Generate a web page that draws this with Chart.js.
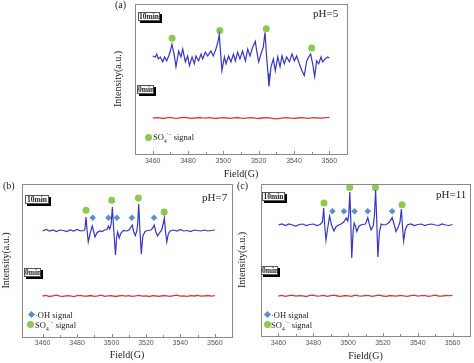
<!DOCTYPE html>
<html>
<head>
<meta charset="utf-8">
<script src="https://cdn.jsdelivr.net/npm/chart.js@4.4.1/dist/chart.umd.min.js"></script>
<style>
body{margin:0;background:#fff;}
#wrap{position:relative;width:474px;height:363px;overflow:hidden;font-family:"Liberation Serif",serif;}
canvas{position:absolute;}
.t{position:absolute;white-space:nowrap;color:#222;line-height:1;}
.box{position:absolute;box-sizing:border-box;height:9px;background:#fff;border:1px solid #555;box-shadow:2px 2px 0 #000;font-weight:bold;font-size:7.5px;line-height:7px;text-align:center;color:#222;}
.lg{position:absolute;white-space:nowrap;font-size:8.5px;line-height:1;color:#222;}
.lg sub,.lg sup{font-size:5.5px;line-height:0;}
.dot{position:absolute;width:7px;height:7px;border-radius:50%;background:#8dc84f;}
.dia{position:absolute;width:5px;height:5px;background:#5b8fd2;transform:rotate(45deg);}
</style>
</head>
<body>
<div id="wrap">
  <canvas id="chartA" width="260" height="182" style="left:100px;top:0px"></canvas>
  <canvas id="chartB" width="240" height="183" style="left:0px;top:180px"></canvas>
  <canvas id="chartC" width="238" height="183" style="left:236px;top:180px"></canvas>

  <div class="t" style="left:115px;top:0px;font-size:10px">(a)</div>
  <div class="t" style="left:3px;top:181px;font-size:10px">(b)</div>
  <div class="t" style="left:237px;top:181px;font-size:10px">(c)</div>

  <div class="t" style="left:313px;top:8px;font-size:11px">pH=5</div>
  <div class="t" style="left:202px;top:192px;font-size:11px">pH=7</div>
  <div class="t" style="left:436px;top:189px;font-size:11px">pH=11</div>

  <div class="box" style="left:138px;top:12px;width:22px">10min</div>
  <div class="box" style="left:137px;top:85px;width:17px">0min</div>
  <div class="box" style="left:25px;top:195px;width:24px">10min</div>
  <div class="box" style="left:24px;top:268px;width:17px">0min</div>
  <div class="box" style="left:262px;top:192px;width:23px">10min</div>
  <div class="box" style="left:261px;top:266px;width:17px">0min</div>

  <!-- legends -->
  <div class="dot" style="left:145px;top:134px"></div>
  <div class="lg" style="left:153px;top:133px">SO<sub>4</sub><sup>·−</sup> signal</div>

  <div class="dia" style="left:29px;top:312px"></div>
  <div class="lg" style="left:35px;top:311px">·OH signal</div>
  <div class="dot" style="left:27px;top:321px"></div>
  <div class="lg" style="left:35px;top:321px">SO<sub>4</sub><sup>·−</sup> signal</div>

  <div class="dia" style="left:265px;top:312px"></div>
  <div class="lg" style="left:271px;top:311px">·OH signal</div>
  <div class="dot" style="left:264px;top:321px"></div>
  <div class="lg" style="left:271px;top:321px">SO<sub>4</sub><sup>·−</sup> signal</div>
</div>

<script>
// axis ticks
var fieldTicks = [3460, 3480, 3500, 3520, 3540, 3560];
var minorTicks = [3470, 3490, 3510, 3530, 3550];

// 0min traces (red), shared field grid
var fieldRed = [3460,3462,3464,3466,3468,3470,3472,3474,3476,3478,3480,3482,3484,3486,3488,3490,3492,3494,3496,3498,3500,3502,3504,3506,3508,3510,3512,3514,3516,3518,3520,3522,3524,3526,3528,3530,3532,3534,3536,3538,3540,3542,3544,3546,3548,3550,3552,3554,3556,3558,3560];
var redA = [36.5,37,36.8,36.2,36.9,37.3,36.6,36.4,37,37.4,36.9,36.3,36.7,37.2,36.8,36.5,37,36.6,36.2,36.8,37.1,36.7,36.4,36.9,37.2,36.6,36.3,36.8,37,36.5,36.2,36.7,37.1,36.8,36.4,35.8,36.3,36.8,37,36.6,36.3,36.7,37.1,36.8,36.4,36.9,37.2,36.7,36.5,37,37.3];
var redB = [41,41.6,40.5,41.2,41.8,40.9,40.6,41.4,41.1,40.4,41.3,41.7,40.8,41,41.5,40.6,41.2,41.9,40.7,41.1,41.4,40.5,41,41.6,40.9,41.3,40.6,41.1,41.7,40.8,41.2,40.5,41.4,41,40.7,41.5,41.1,40.6,41.3,41.8,40.9,41.2,40.6,41.4,41,41.6,40.8,41.2,41.5,40.9,41.3];
var redC = [40,40.7,39.6,40.3,40.9,39.8,40.4,40.1,39.5,40.6,40.8,39.9,40.2,40.7,39.6,40.3,40.9,40,39.7,40.5,40.2,39.6,40.8,40.1,39.9,40.6,40.3,39.7,40.4,40.9,40,39.6,40.5,40.2,39.8,40.7,40.1,39.6,40.4,40.8,39.9,40.3,40.6,39.7,40.2,40.9,40,39.8,40.5,40.3,40.6];

// 10min traces (blue)
var fieldA = [3460,3461.5,3462.3,3463.2,3464.3,3465.7,3466.8,3467.9,3469.1,3470,3470.9,3472.3,3473.2,3474.7,3476,3477,3478.5,3479.8,3480.8,3482.3,3483.6,3484.5,3486,3487.4,3488.3,3489.8,3491.1,3493,3494.3,3495.8,3497,3497.7,3498.5,3499.2,3500.6,3501.5,3503,3504.3,3505.7,3506.8,3508.1,3509.4,3510.9,3512.5,3513.8,3515.1,3516.6,3518.1,3518.9,3520,3521.3,3522.6,3523.6,3524.5,3525.3,3525.8,3527,3528.3,3529.4,3530.8,3532.1,3533.2,3534.5,3535.8,3537.4,3538.9,3540.2,3541.5,3543,3544.5,3545.8,3547.2,3548.3,3549.4,3550.6,3551.7,3552.8,3554,3555.3,3556.2,3557.7,3559,3560];
var blueA = [100,99,102,97,99,94,99,95,100,105,112,100,89,105,99,107,94,100,90,99,92,100,95,102,97,104,100,105,100,107,115,122,102,85,99,92,100,94,102,95,104,97,105,95,107,100,109,115,105,94,102,109,124,99,82,69,89,97,85,99,89,100,92,99,94,102,95,100,92,85,80,95,99,102,92,79,95,92,99,94,97,99,98];

var fieldB = [3460,3462,3464,3466,3468,3470,3472,3474,3476,3478,3480,3482,3484,3484.6,3485.2,3485.8,3486.5,3487.5,3488.8,3489.6,3490.4,3491.5,3493,3494.5,3496,3497.4,3498.2,3499,3499.8,3500.5,3501.3,3502.3,3503,3503.6,3504.5,3505.5,3507,3509,3510.5,3511.3,3512,3512.9,3513.8,3514.7,3515.2,3515.8,3516.5,3517.3,3518.2,3519.5,3521,3523,3524,3524.8,3525.8,3526.8,3528,3529.2,3530,3530.7,3531.4,3532.1,3533,3534,3536,3538,3540,3542,3544,3546,3548,3550,3552,3554,3556,3558,3560];
var blueB = [106,107.5,106,107,105.5,107,106.5,105.5,107,106,107.5,106,106.5,108,120,107,95,103,111,106,100,104,106,105.5,107,107.5,111,108,113,130,107,82,100,105,99,104,106.5,106,107.5,110,112,105,101.5,106,113,133,107,83,101,105.5,106.5,107,109,112,105,101,104.5,107,113,119,105,95,103,106,107,106,107.5,106,106.5,105.5,107,106.5,106,107,106,106.5,107];

var fieldC = [3460,3462,3464,3466,3468,3470,3472,3474,3476,3478,3480,3482,3484,3485.3,3486,3486.6,3487.3,3488.3,3489.4,3490.5,3491.9,3493,3494.5,3496,3497.5,3499,3499.8,3500.4,3501,3501.5,3502.1,3502.9,3503.5,3504.2,3505,3506.3,3508,3510,3511.3,3512.2,3513.2,3514.4,3515.1,3515.8,3516.4,3517.1,3518,3519,3520.5,3522,3523.8,3525.3,3526.4,3527.5,3528.8,3529.8,3530.6,3531.2,3531.9,3532.8,3534,3536,3538,3540,3542,3544,3546,3548,3550,3552,3554,3556,3558,3560];
var blueC = [111,112,110.5,112,111,110,111.5,112,110.5,111.5,112,110.5,111.5,114,128,110,96,108,120,111,105,109,111,112,114,118,115,121,144,118,78,105,113,110,104.5,110,111.5,112,118.5,112,106,110,120,146,118,79,104,112,111,111.5,114,118.5,112,104.5,109,114,127,110,95,106,111,112,110.5,111.5,112,110.5,111.5,112,111,110.5,112,111,110.5,111.5];

// signal markers
var soFieldA = [3471, 3498, 3524.3, 3550];
var soA = [118, 126, 127.7, 108];
var soFieldB = [3485.2, 3500.1, 3515.6, 3530.6];
var soB = [126.7, 136.7, 139, 125];
var ohFieldB = [3489.1, 3498.2, 3503.1, 3511.8, 3524.7];
var ohB = [119.3, 119.3, 119.3, 119.3, 119.3];
var soFieldC = [3486.2, 3500.9, 3515.7, 3531];
var soC = [133, 148.5, 148.5, 131.3];
var ohFieldC = [3491, 3497.6, 3503.7, 3511.3, 3525.3];
var ohC = [124.7, 124.7, 124.7, 124.7, 124.7];

function pts(xs, ys) {
  return xs.map(function (x, i) { return {x: x, y: ys[i]}; });
}

// grey box round the plot + inward ticks on the bottom axis
var framePlugin = {
  id: 'frame',
  afterDraw: function (chart) {
    var ctx = chart.ctx, a = chart.chartArea, x = chart.scales.x;
    ctx.save();
    ctx.strokeStyle = '#8a8a8a';
    ctx.lineWidth = 1;
    ctx.strokeRect(Math.round(a.left) + 0.5, Math.round(a.top) + 0.5, Math.round(a.right - a.left), Math.round(a.bottom - a.top));
    ctx.beginPath();
    fieldTicks.forEach(function (v) {
      var px = Math.round(x.getPixelForValue(v)) + 0.5;
      ctx.moveTo(px, a.bottom); ctx.lineTo(px, a.bottom - 3);
    });
    minorTicks.forEach(function (v) {
      var px = Math.round(x.getPixelForValue(v)) + 0.5;
      ctx.moveTo(px, a.bottom); ctx.lineTo(px, a.bottom - 2);
    });
    ctx.stroke();
    ctx.restore();
  }
};

function makePanel(id, o) {
  var sets = [
    {data: pts(fieldRed, o.red), showLine: true, borderColor: '#d23c3c', borderWidth: 1.3, pointRadius: 0},
    {data: pts(o.field, o.blue), showLine: true, borderColor: '#3636c8', borderWidth: 1.2, pointRadius: 0}
  ];
  if (o.oh) {
    sets.push({data: pts(o.ohField, o.oh), pointStyle: 'rectRot', pointRadius: 3.3, backgroundColor: '#5b8fd2', borderWidth: 0});
  }
  sets.push({data: pts(o.soField, o.so), pointStyle: 'circle', pointRadius: 3.5, backgroundColor: '#8dc84f', borderWidth: 0});

  new Chart(document.getElementById(id), {
    type: 'scatter',
    data: {datasets: sets},
    options: {
      responsive: false,
      animation: false,
      layout: {padding: o.pad},
      plugins: {legend: {display: false}, tooltip: {enabled: false}},
      scales: {
        x: {
          type: 'linear', min: o.xmin, max: 3570,
          afterBuildTicks: function (ax) { ax.ticks = fieldTicks.map(function (v) { return {value: v}; }); },
          afterFit: function (ax) { ax.height = o.xh; },
          grid: {display: false, drawTicks: false},
          border: {display: false},
          ticks: {
            color: '#555', padding: o.tp, maxRotation: 0, autoSkip: false,
            font: {family: 'Liberation Sans', size: 7},
            callback: function (v) { return String(v); }
          },
          title: {display: true, text: 'Field(G)', color: '#222', font: {family: 'Liberation Serif', size: 10}, padding: {top: 0, bottom: o.xtp}}
        },
        y: {
          min: 0, max: o.ymax,
          afterFit: function (ax) { ax.width = o.yw; },
          grid: {display: false, drawTicks: false},
          border: {display: false},
          ticks: {display: false},
          title: {display: true, text: 'Intensity(a.u.)', color: '#222', font: {family: 'Liberation Serif', size: 10}, padding: {top: o.ytp, bottom: 0}}
        }
      }
    },
    plugins: [framePlugin]
  });
}

makePanel('chartA', {
  field: fieldA, blue: blueA, red: redA, soField: soFieldA, so: soA,
  xmin: 3450, ymax: 153, pad: {left: 0, top: 1, right: 13, bottom: 0},
  yw: 35, xh: 28, ytp: 12, xtp: 2, tp: 3
});
makePanel('chartB', {
  field: fieldB, blue: blueB, red: redB, soField: soFieldB, so: soB, ohField: ohFieldB, oh: ohB,
  xmin: 3448, ymax: 153, pad: {left: 0, top: 4, right: 8, bottom: 0},
  yw: 22, xh: 26, ytp: 0, xtp: 2, tp: 2
});
makePanel('chartC', {
  field: fieldC, blue: blueC, red: redC, soField: soFieldC, so: soC, ohField: ohFieldC, oh: ohC,
  xmin: 3450, ymax: 152, pad: {left: 0, top: 4, right: 3, bottom: 0},
  yw: 25, xh: 27, ytp: 0, xtp: 1, tp: 3
});
</script>
</body>
</html>
